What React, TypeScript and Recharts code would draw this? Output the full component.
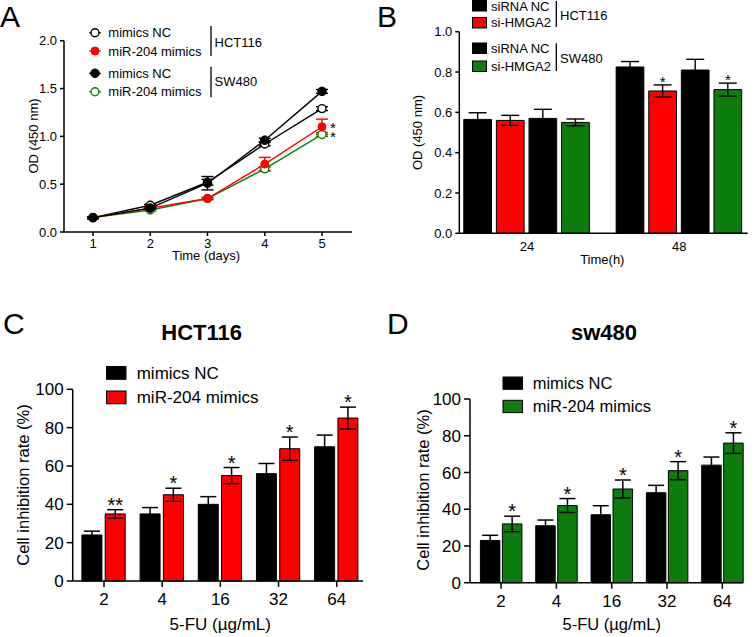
import React from 'react';
import { LineChart, Line, BarChart, Bar, XAxis, YAxis, ErrorBar, LabelList } from 'recharts';

const FONT = "'Liberation Sans', Arial, Helvetica, sans-serif";
const RED = '#ff0000';
const GREEN = '#0d7d0d';

// ---------- Panel A ----------
const daysA = [1, 2, 3, 4, 5];
const hctNC_A = [0.15, 0.28, 0.52, 0.92, 1.29];
const hctNC_Aerr = [0.01, 0.01, 0.03, 0.02, 0.02];
const hctMiR_A = [0.15, 0.25, 0.35, 0.71, 1.1];
const hctMiR_Aerr = [0.01, 0.01, 0.01, 0.07, 0.08];
const swNC_A = [0.15, 0.25, 0.51, 0.96, 1.47];
const swNC_Aerr = [0.01, 0.01, 0.07, 0.02, 0.02];
const swMiR_A = [0.15, 0.23, 0.35, 0.66, 1.02];
const swMiR_Aerr = [0.01, 0.01, 0.01, 0.02, 0.02];
const starsA_hct = ['', '', '', '', '*'];
const starsA_sw = ['', '', '', '', '*'];
const ticksA = [0, 0.5, 1, 1.5, 2];

// ---------- Panel B ----------
const timesB = ['24', '48'];
const hctNC_B = [0.565, 0.825];
const hctNC_Berr = [0.033, 0.027];
const hctSi_B = [0.56, 0.706];
const hctSi_Berr = [0.025, 0.03];
const swNC_B = [0.57, 0.81];
const swNC_Berr = [0.045, 0.053];
const swSi_B = [0.55, 0.713];
const swSi_Berr = [0.017, 0.032];
const starsB_hct = ['', '*'];
const starsB_sw = ['', '*'];
const ticksB = [0, 0.2, 0.4, 0.6, 0.8, 1.0];

// ---------- Panel C ----------
const dosesC = ['2', '4', '16', '32', '64'];
const ncC = [24, 35, 40, 56, 70];
const ncCerr = [2, 3.3, 4, 5.3, 6.1];
const mirC = [35, 45, 55, 69, 85];
const mirCerr = [2.2, 3.4, 4.2, 6.1, 5.7];
const starsC = ['**', '*', '*', '*', '*'];

// ---------- Panel D ----------
const dosesD = ['2', '4', '16', '32', '64'];
const ncD = [23, 31, 37, 49, 64];
const ncDerr = [2.8, 3.1, 4.9, 4, 4.4];
const mirD = [32, 42, 51, 61, 76];
const mirDerr = [4.2, 3.8, 4.9, 4.9, 5.6];
const starsD = ['*', '*', '*', '*', '*'];

const pctTicks = [0, 20, 40, 60, 80, 100];

const dataA = daysA.map((d, i) => ({
  day: d,
  hctNC: hctNC_A[i], hctNCErr: hctNC_Aerr[i],
  hctMiR: hctMiR_A[i], hctMiRErr: hctMiR_Aerr[i],
  swNC: swNC_A[i], swNCErr: swNC_Aerr[i],
  swMiR: swMiR_A[i], swMiRErr: swMiR_Aerr[i],
}));

const dataB = timesB.map((t, i) => ({
  t,
  hctNC: hctNC_B[i], hctNCErr: hctNC_Berr[i],
  hctSi: hctSi_B[i], hctSiErr: hctSi_Berr[i],
  swNC: swNC_B[i], swNCErr: swNC_Berr[i],
  swSi: swSi_B[i], swSiErr: swSi_Berr[i],
}));

const dataC = dosesC.map((d, i) => ({ d, nc: ncC[i], ncErr: ncCerr[i], mir: mirC[i], mirErr: mirCerr[i] }));
const dataD = dosesD.map((d, i) => ({ d, nc: ncD[i], ncErr: ncDerr[i], mir: mirD[i], mirErr: mirDerr[i] }));

const axisStyle = { stroke: '#000', strokeWidth: 1.5 };

const lineStar = (stars: string[], dy: number) => (p: any) => {
  const s = stars[p.index];
  if (!s) return null;
  return (
    <text x={p.x + 11} y={p.y + dy} textAnchor="middle" fontSize={15} fontFamily={FONT} fill="#000">{s}</text>
  );
};

const barStar = (stars: string[], errs: number[], fs: number, dy: number) => (p: any) => {
  const s = stars[p.index];
  if (!s) return null;
  const raw = Array.isArray(p.value) ? p.value[1] - p.value[0] : p.value;
  const ppu = Math.abs(p.height) / raw;
  const top = p.y - errs[p.index] * ppu;
  return (
    <text x={p.x + p.width / 2} y={top + dy} textAnchor="middle" fontSize={fs} fontFamily={FONT} fill="#000">{s}</text>
  );
};

function PanelA() {
  const tick = { fill: '#000', fontSize: 13, fontFamily: FONT };
  return (
    <LineChart width={380} height={280} data={dataA} margin={{ top: 40.7, right: 28, bottom: 0, left: 0 }}>
      <XAxis dataKey="day" type="number" domain={[1, 5]} ticks={daysA} padding={{ left: 29, right: 30 }}
        height={48} axisLine={axisStyle} tickLine={axisStyle} tickSize={4} tickMargin={3} tick={tick} />
      <YAxis type="number" domain={[0, 2]} ticks={ticksA} width={64} axisLine={axisStyle} tickLine={axisStyle}
        tickSize={4} tickMargin={3} tick={tick} tickFormatter={(v: number) => v.toFixed(1)} />
      <Line dataKey="swMiR" stroke={GREEN} strokeWidth={1.4} isAnimationActive={false}
        dot={{ r: 4, fill: '#fff', stroke: GREEN, strokeWidth: 1.4 }}>
        <ErrorBar dataKey="swMiRErr" width={6} stroke={GREEN} strokeWidth={1.4} direction="y" />
        <LabelList dataKey="swMiR" content={lineStar(starsA_sw, 7.3)} />
      </Line>
      <Line dataKey="hctNC" stroke="#000" strokeWidth={1.4} isAnimationActive={false}
        dot={{ r: 4, fill: '#fff', stroke: '#000', strokeWidth: 1.4 }}>
        <ErrorBar dataKey="hctNCErr" width={6} stroke="#000" strokeWidth={1.4} direction="y" />
      </Line>
      <Line dataKey="hctMiR" stroke={RED} strokeWidth={1.4} isAnimationActive={false}
        dot={{ r: 4, fill: RED, stroke: RED, strokeWidth: 1 }}>
        <ErrorBar dataKey="hctMiRErr" width={6} stroke={RED} strokeWidth={1.4} direction="y" />
        <LabelList dataKey="hctMiR" content={lineStar(starsA_hct, 6.5)} />
      </Line>
      <Line dataKey="swNC" stroke="#000" strokeWidth={1.4} isAnimationActive={false}
        dot={{ r: 4.3, fill: '#000', stroke: '#000', strokeWidth: 1 }}>
        <ErrorBar dataKey="swNCErr" width={6} stroke="#000" strokeWidth={1.4} direction="y" />
      </Line>
    </LineChart>
  );
}

function PanelB() {
  const tick = { fill: '#000', fontSize: 13, fontFamily: FONT };
  const eb = { width: 9, stroke: '#000', strokeWidth: 1.4, direction: 'y' as const };
  return (
    <BarChart width={380} height={280} data={dataB} margin={{ top: 31.7, right: 8.3, bottom: 0, left: 0 }}
      barSize={27.7} barGap={4.9}>
      <XAxis dataKey="t" height={46.7} padding={{ left: -8.5, right: -7.8 }} axisLine={axisStyle} tickLine={false}
        tickSize={4} tickMargin={4} tick={tick} />
      <YAxis type="number" domain={[0, 1]} ticks={ticksB} width={83.3} axisLine={axisStyle} tickLine={axisStyle}
        tickSize={4} tickMargin={3} tick={tick} tickFormatter={(v: number) => v.toFixed(1)} />
      <Bar dataKey="hctNC" fill="#000" stroke="#000" strokeWidth={1} isAnimationActive={false}>
        <ErrorBar dataKey="hctNCErr" {...eb} />
      </Bar>
      <Bar dataKey="hctSi" fill={RED} stroke="#000" strokeWidth={1} isAnimationActive={false}>
        <ErrorBar dataKey="hctSiErr" {...eb} />
        <LabelList dataKey="hctSi" content={barStar(starsB_hct, hctSi_Berr, 15, 2)} />
      </Bar>
      <Bar dataKey="swNC" fill="#000" stroke="#000" strokeWidth={1} isAnimationActive={false}>
        <ErrorBar dataKey="swNCErr" {...eb} />
      </Bar>
      <Bar dataKey="swSi" fill={GREEN} stroke="#000" strokeWidth={1} isAnimationActive={false}>
        <ErrorBar dataKey="swSiErr" {...eb} />
        <LabelList dataKey="swSi" content={barStar(starsB_sw, swSi_Berr, 15, 2)} />
      </Bar>
    </BarChart>
  );
}

function DosePanel(props: {
  data: any[]; color: string; stars: string[]; mirErr: number[];
  top: number; right: number; xh: number; yw: number; padL: number; padR: number; barSize: number; barGap: number;
}) {
  const tick = { fill: '#000', fontSize: 17, fontFamily: FONT };
  const eb = { width: 8, stroke: '#000', strokeWidth: 1.5, direction: 'y' as const };
  return (
    <BarChart width={380} height={357} data={props.data}
      margin={{ top: props.top, right: props.right, bottom: 0, left: 0 }} barSize={props.barSize} barGap={props.barGap}>
      <XAxis dataKey="d" height={props.xh} padding={{ left: props.padL, right: props.padR }} axisLine={axisStyle}
        tickLine={axisStyle} tickSize={6} tickMargin={6} tick={tick} />
      <YAxis type="number" domain={[0, 100]} ticks={pctTicks} width={props.yw} axisLine={axisStyle} tickLine={axisStyle}
        tickSize={6} tickMargin={3} tick={tick} />
      <Bar dataKey="nc" fill="#000" stroke="#000" strokeWidth={1} isAnimationActive={false}>
        <ErrorBar dataKey="ncErr" {...eb} />
      </Bar>
      <Bar dataKey="mir" fill={props.color} stroke="#000" strokeWidth={1} isAnimationActive={false}>
        <ErrorBar dataKey="mirErr" {...eb} />
        <LabelList dataKey="mir" content={barStar(props.stars, props.mirErr, 20, 2)} />
      </Bar>
    </BarChart>
  );
}

function LegendSquare({ x, y, w, h, fill }: { x: number; y: number; w: number; h: number; fill: string }) {
  return <rect x={x} y={y} width={w} height={h} fill={fill} stroke="#000" strokeWidth={1} />;
}

function Overlay() {
  const t = { fontFamily: FONT, fill: '#000' };
  return (
    <svg width={756} height={637} style={{ position: 'absolute', left: 0, top: 0, pointerEvents: 'none' }}>
      {/* panel letters */}
      <text x={0} y={27} fontSize={30} {...t}>A</text>
      <text x={377} y={27} fontSize={30} {...t}>B</text>
      <text x={3} y={334} fontSize={30} {...t}>C</text>
      <text x={387} y={334} fontSize={30} {...t}>D</text>

      {/* Panel A legend */}
      <line x1={89.3} x2={100.7} y1={32.7} y2={32.7} stroke="#000" strokeWidth={1.4} />
      <circle cx={95} cy={32.7} r={4} fill="#fff" stroke="#000" strokeWidth={1.4} />
      <text x={108.3} y={37.4} fontSize={13} {...t}>mimics NC</text>
      <line x1={89.3} x2={100.7} y1={51} y2={51} stroke={RED} strokeWidth={1.4} />
      <circle cx={95} cy={51} r={4} fill={RED} stroke={RED} strokeWidth={1} />
      <text x={108.3} y={55.7} fontSize={13} {...t}>miR-204 mimics</text>
      <line x1={89.3} x2={100.7} y1={73.3} y2={73.3} stroke="#000" strokeWidth={1.4} />
      <circle cx={95} cy={73.3} r={4.3} fill="#000" stroke="#000" strokeWidth={1} />
      <text x={108.3} y={78} fontSize={13} {...t}>mimics NC</text>
      <line x1={89.3} x2={100.7} y1={91.7} y2={91.7} stroke={GREEN} strokeWidth={1.4} />
      <circle cx={95} cy={91.7} r={4} fill="#fff" stroke={GREEN} strokeWidth={1.4} />
      <text x={108.3} y={96.4} fontSize={13} {...t}>miR-204 mimics</text>
      <line x1={211} x2={211} y1={26} y2={56} stroke="#000" strokeWidth={1.3} />
      <text x={214.5} y={47} fontSize={13} {...t}>HCT116</text>
      <line x1={211} x2={211} y1={66.7} y2={97.3} stroke="#000" strokeWidth={1.3} />
      <text x={214.5} y={86.4} fontSize={13} {...t}>SW480</text>

      {/* Panel A axis titles */}
      <text transform="translate(37.5,136) rotate(-90)" textAnchor="middle" fontSize={13} {...t}>OD (450 nm)</text>
      <text x={206} y={260} textAnchor="middle" fontSize={13} {...t}>Time (days)</text>

      {/* Panel B legend */}
      <LegendSquare x={472.5} y={0.5} w={14} h={10.5} fill="#000" />
      <text x={491} y={10.6} fontSize={13} {...t}>siRNA NC</text>
      <LegendSquare x={472.5} y={17.5} w={14} h={10.5} fill={RED} />
      <text x={491} y={27.4} fontSize={13} {...t}>si-HMGA2</text>
      <LegendSquare x={472.5} y={43} w={14} h={10.5} fill="#000" />
      <text x={491} y={52.8} fontSize={13} {...t}>siRNA NC</text>
      <LegendSquare x={472.5} y={61} w={14} h={10.5} fill={GREEN} />
      <text x={491} y={70.8} fontSize={13} {...t}>si-HMGA2</text>
      <line x1={556.3} x2={556.3} y1={1} y2={27} stroke="#000" strokeWidth={1.3} />
      <text x={560} y={19.7} fontSize={13} {...t}>HCT116</text>
      <line x1={556.3} x2={556.3} y1={43.3} y2={71} stroke="#000" strokeWidth={1.3} />
      <text x={560} y={62.5} fontSize={13} {...t}>SW480</text>

      {/* Panel B axis titles */}
      <text transform="translate(422,132.5) rotate(-90)" textAnchor="middle" fontSize={13} {...t}>OD (450 nm)</text>
      <text x={602.3} y={264} textAnchor="middle" fontSize={13} {...t}>Time(h)</text>

      {/* Panel C */}
      <text x={201.7} y={340} textAnchor="middle" fontSize={22} fontWeight="bold" {...t}>HCT116</text>
      <LegendSquare x={106.5} y={366.5} w={19.5} h={12.8} fill="#000" />
      <text x={136.7} y={378.8} fontSize={17} {...t}>mimics NC</text>
      <LegendSquare x={106.5} y={391} w={19.5} h={12.8} fill={RED} />
      <text x={136.7} y={403.4} fontSize={17} {...t}>miR-204 mimics</text>
      <text transform="translate(28.5,485) rotate(-90)" textAnchor="middle" fontSize={16.5} {...t}>Cell inhibition rate (%)</text>
      <text x={220.3} y={630} textAnchor="middle" fontSize={17} {...t}>5-FU (µg/mL)</text>

      {/* Panel D */}
      <text x={604} y={339.5} textAnchor="middle" fontSize={22} fontWeight="bold" {...t}>sw480</text>
      <LegendSquare x={503} y={377} w={19.5} h={12.3} fill="#000" />
      <text x={532.7} y={389.1} fontSize={16.5} {...t}>mimics NC</text>
      <LegendSquare x={503} y={400.3} w={19.5} h={12.3} fill={GREEN} />
      <text x={532.7} y={412.4} fontSize={16.5} {...t}>miR-204 mimics</text>
      <text transform="translate(429,490) rotate(-90)" textAnchor="middle" fontSize={16.5} {...t}>Cell inhibition rate (%)</text>
      <text x={611.7} y={630} textAnchor="middle" fontSize={16.5} {...t}>5-FU (µg/mL)</text>
    </svg>
  );
}

export default function App() {
  return (
    <div style={{ position: 'absolute', left: 0, top: 0, width: 756, height: 637, background: '#fff', overflow: 'hidden', fontFamily: FONT }}>
      <div style={{ position: 'absolute', left: 0, top: 0 }}><PanelA /></div>
      <div style={{ position: 'absolute', left: 376, top: 0 }}><PanelB /></div>
      <div style={{ position: 'absolute', left: 0, top: 280 }}>
        <DosePanel data={dataC} color={RED} stars={starsC} mirErr={mirCerr}
          top={109.3} right={17} xh={56} yw={72.7} padL={2.2} padR={-2.8} barSize={20} barGap={3.3} />
      </div>
      <div style={{ position: 'absolute', left: 376, top: 280 }}>
        <DosePanel data={dataD} color={GREEN} stars={starsD} mirErr={mirDerr}
          top={119} right={12.7} xh={54.3} yw={94} padL={3.4} padR={-6.7} barSize={19.5} barGap={2.5} />
      </div>
      <Overlay />
    </div>
  );
}
